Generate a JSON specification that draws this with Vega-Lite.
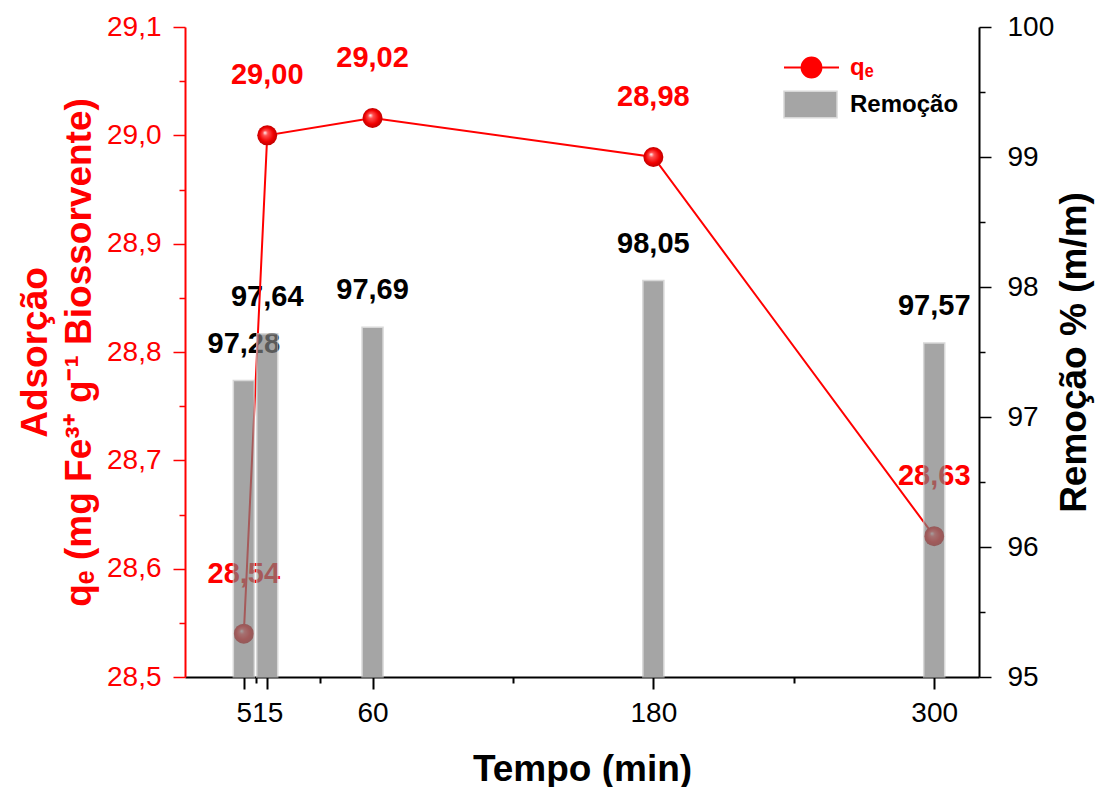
{
  "$schema": "https://vega.github.io/schema/vega-lite/v6.json",
  "width": 794,
  "height": 650,
  "autosize": {"type": "none"},
  "padding": {"left": 185, "top": 27, "right": 117, "bottom": 110},
  "background": "white",
  "config": {
    "font": "Liberation Sans",
    "view": {"stroke": null},
    "axis": {"grid": false}
  },
  "data": {
    "values": [
      {"t": 5, "qe": 28.54, "rem": 97.28, "qeLabel": "28,54", "remLabel": "97,28"},
      {"t": 15, "qe": 29.0, "rem": 97.64, "qeLabel": "29,00", "remLabel": "97,64"},
      {"t": 60, "qe": 29.016, "rem": 97.69, "qeLabel": "29,02", "remLabel": "97,69"},
      {"t": 180, "qe": 28.98, "rem": 98.05, "qeLabel": "28,98", "remLabel": "98,05"},
      {"t": 300, "qe": 28.63, "rem": 97.57, "qeLabel": "28,63", "remLabel": "97,57"}
    ]
  },
  "layer": [
    {
      "mark": {"type": "text", "font": "Liberation Sans", "fontWeight": "bold", "fontSize": 29, "color": "black", "dy": -37, "baseline": "middle"},
      "encoding": {
        "x": {"field": "t", "type": "quantitative", "scale": {"domain": [-18, 317], "nice": false, "zero": false},
              "axis": {"orient": "bottom", "values": [5, 15, 60, 180, 300], "title": "Tempo (min)", "titleFontSize": 37, "titleFontWeight": "bold", "titleColor": "black", "titlePadding": 24,
                       "labelFontSize": 28, "labelColor": "black", "labelOverlap": false, "labelBound": false, "labelPadding": 10, "labelFlush": false,
                       "tickSize": 12, "tickWidth": 2, "tickColor": "black", "domainColor": "black", "domainWidth": 2}},
        "y": {"field": "rem", "type": "quantitative", "scale": {"domain": [95, 100], "nice": false, "zero": false},
              "axis": {"orient": "right", "values": [95, 96, 97, 98, 99, 100], "title": "Remoção % (m/m)", "titleFontSize": 37, "titleFontWeight": "bold", "titleColor": "black", "titleAngle": 270, "titlePadding": 40,
                       "labelFontSize": 28, "labelColor": "black", "labelPadding": 16, "tickSize": 12, "tickWidth": 1.5, "tickColor": "black", "domainColor": "black", "domainWidth": 2}},
        "text": {"field": "remLabel"}
      }
    },
    {
      "mark": {"type": "line", "color": "#ff0000", "strokeWidth": 2},
      "encoding": {
        "x": {"field": "t", "type": "quantitative", "axis": {"orient": "bottom", "values": [10, 37.5, 120, 240], "labels": false, "domain": false, "title": null, "tickSize": 6, "tickWidth": 2, "tickColor": "black"}},
        "y": {"field": "qe", "type": "quantitative", "scale": {"domain": [28.5, 29.1], "nice": false, "zero": false},
              "axis": {"orient": "left", "values": [28.5, 28.6, 28.7, 28.8, 28.9, 29.0, 29.1], "labelExpr": "replace(format(datum.value, '.1f'), '.', ',')",
                       "title": ["Adsorção", "qₑ (mg Fe³⁺ g⁻¹ Biossorvente)"], "titleFontSize": 37, "titleFontWeight": "bold", "titleColor": "#ff0000", "titleLineHeight": 44, "titlePadding": 8,
                       "labelFontSize": 28, "labelColor": "#ff0000", "labelPadding": 12, "tickSize": 12, "tickWidth": 1.5, "tickColor": "#ff0000", "domainColor": "#ff0000", "domainWidth": 2}},
        "stroke": {"datum": "qₑ", "scale": {"range": ["#ff0000"]},
                   "legend": {"orient": "none", "legendX": 598, "legendY": 12, "title": null, "padding": 0,
                              "symbolType": "M-1,0H-0.36M0.36,0H1M0.36,0A0.36,0.36 0 1 1 -0.36,0A0.36,0.36 0 1 1 0.36,0Z",
                              "symbolSize": 3025, "symbolStrokeWidth": 2, "symbolFillColor": "#ff0000", "symbolStrokeColor": "#ff0000",
                              "labelFontSize": 24, "labelFontWeight": "bold", "labelColor": "#ff0000", "labelOffset": 10,
                              "encode": {"symbols": {"update": {"fill": {"value": "#ff0000"}, "stroke": {"value": "#ff0000"}, "opacity": {"value": 1}}}}}}
      }
    },
    {
      "mark": {"type": "point", "filled": true, "size": 400, "opacity": 1,
               "fill": {"gradient": "radial", "x1": 0.38, "y1": 0.36, "r1": 0, "x2": 0.5, "y2": 0.5, "r2": 0.5,
                        "stops": [{"offset": 0, "color": "#ffffff"}, {"offset": 0.25, "color": "#ff5050"}, {"offset": 0.7, "color": "#f00000"}, {"offset": 1, "color": "#c00000"}]},
               "strokeWidth": 0},
      "encoding": {
        "x": {"field": "t", "type": "quantitative", "axis": null},
        "y": {"field": "qe", "type": "quantitative", "scale": {"domain": [28.5, 29.1], "nice": false, "zero": false},
              "axis": {"orient": "left", "values": [28.55, 28.65, 28.75, 28.85, 28.95, 29.05], "labels": false, "domain": false, "title": null, "tickSize": 6, "tickWidth": 1.5, "tickColor": "#ff0000"}}
      }
    },
    {
      "mark": {"type": "text", "font": "Liberation Sans", "fontWeight": "bold", "fontSize": 29, "color": "#ff0000", "dy": -60, "baseline": "middle"},
      "encoding": {
        "x": {"field": "t", "type": "quantitative", "axis": null},
        "y": {"field": "qe", "type": "quantitative", "scale": {"domain": [28.5, 29.1], "nice": false, "zero": false}, "axis": null},
        "text": {"field": "qeLabel"}
      }
    },
    {
      "mark": {"type": "bar", "size": 21, "opacity": 0.7, "stroke": "#c8c8c8", "strokeWidth": 1.5},
      "encoding": {
        "x": {"field": "t", "type": "quantitative", "axis": null},
        "y": {"field": "rem", "type": "quantitative", "scale": {"domain": [95, 100], "nice": false, "zero": false},
              "axis": {"orient": "right", "values": [95.5, 96.5, 97.5, 98.5, 99.5], "labels": false, "domain": false, "title": null, "tickSize": 6, "tickWidth": 1.5, "tickColor": "black"}},
        "y2": {"datum": 95},
        "fill": {"datum": "Remoção", "scale": {"range": ["#808080"]},
                 "legend": {"orient": "none", "legendX": 598, "legendY": 50, "title": null, "padding": 0,
                            "symbolType": "M-1,-0.5H1V0.5H-1Z", "symbolSize": 2809, "symbolOpacity": 0.7, "symbolStrokeColor": "#c8c8c8", "symbolStrokeWidth": 1.5,
                            "labelFontSize": 24, "labelFontWeight": "bold", "labelColor": "black", "labelOffset": 12}}
      }
    }
  ],
  "resolve": {"scale": {"y": "independent"}, "axis": {"x": "independent", "y": "independent"}}
}
